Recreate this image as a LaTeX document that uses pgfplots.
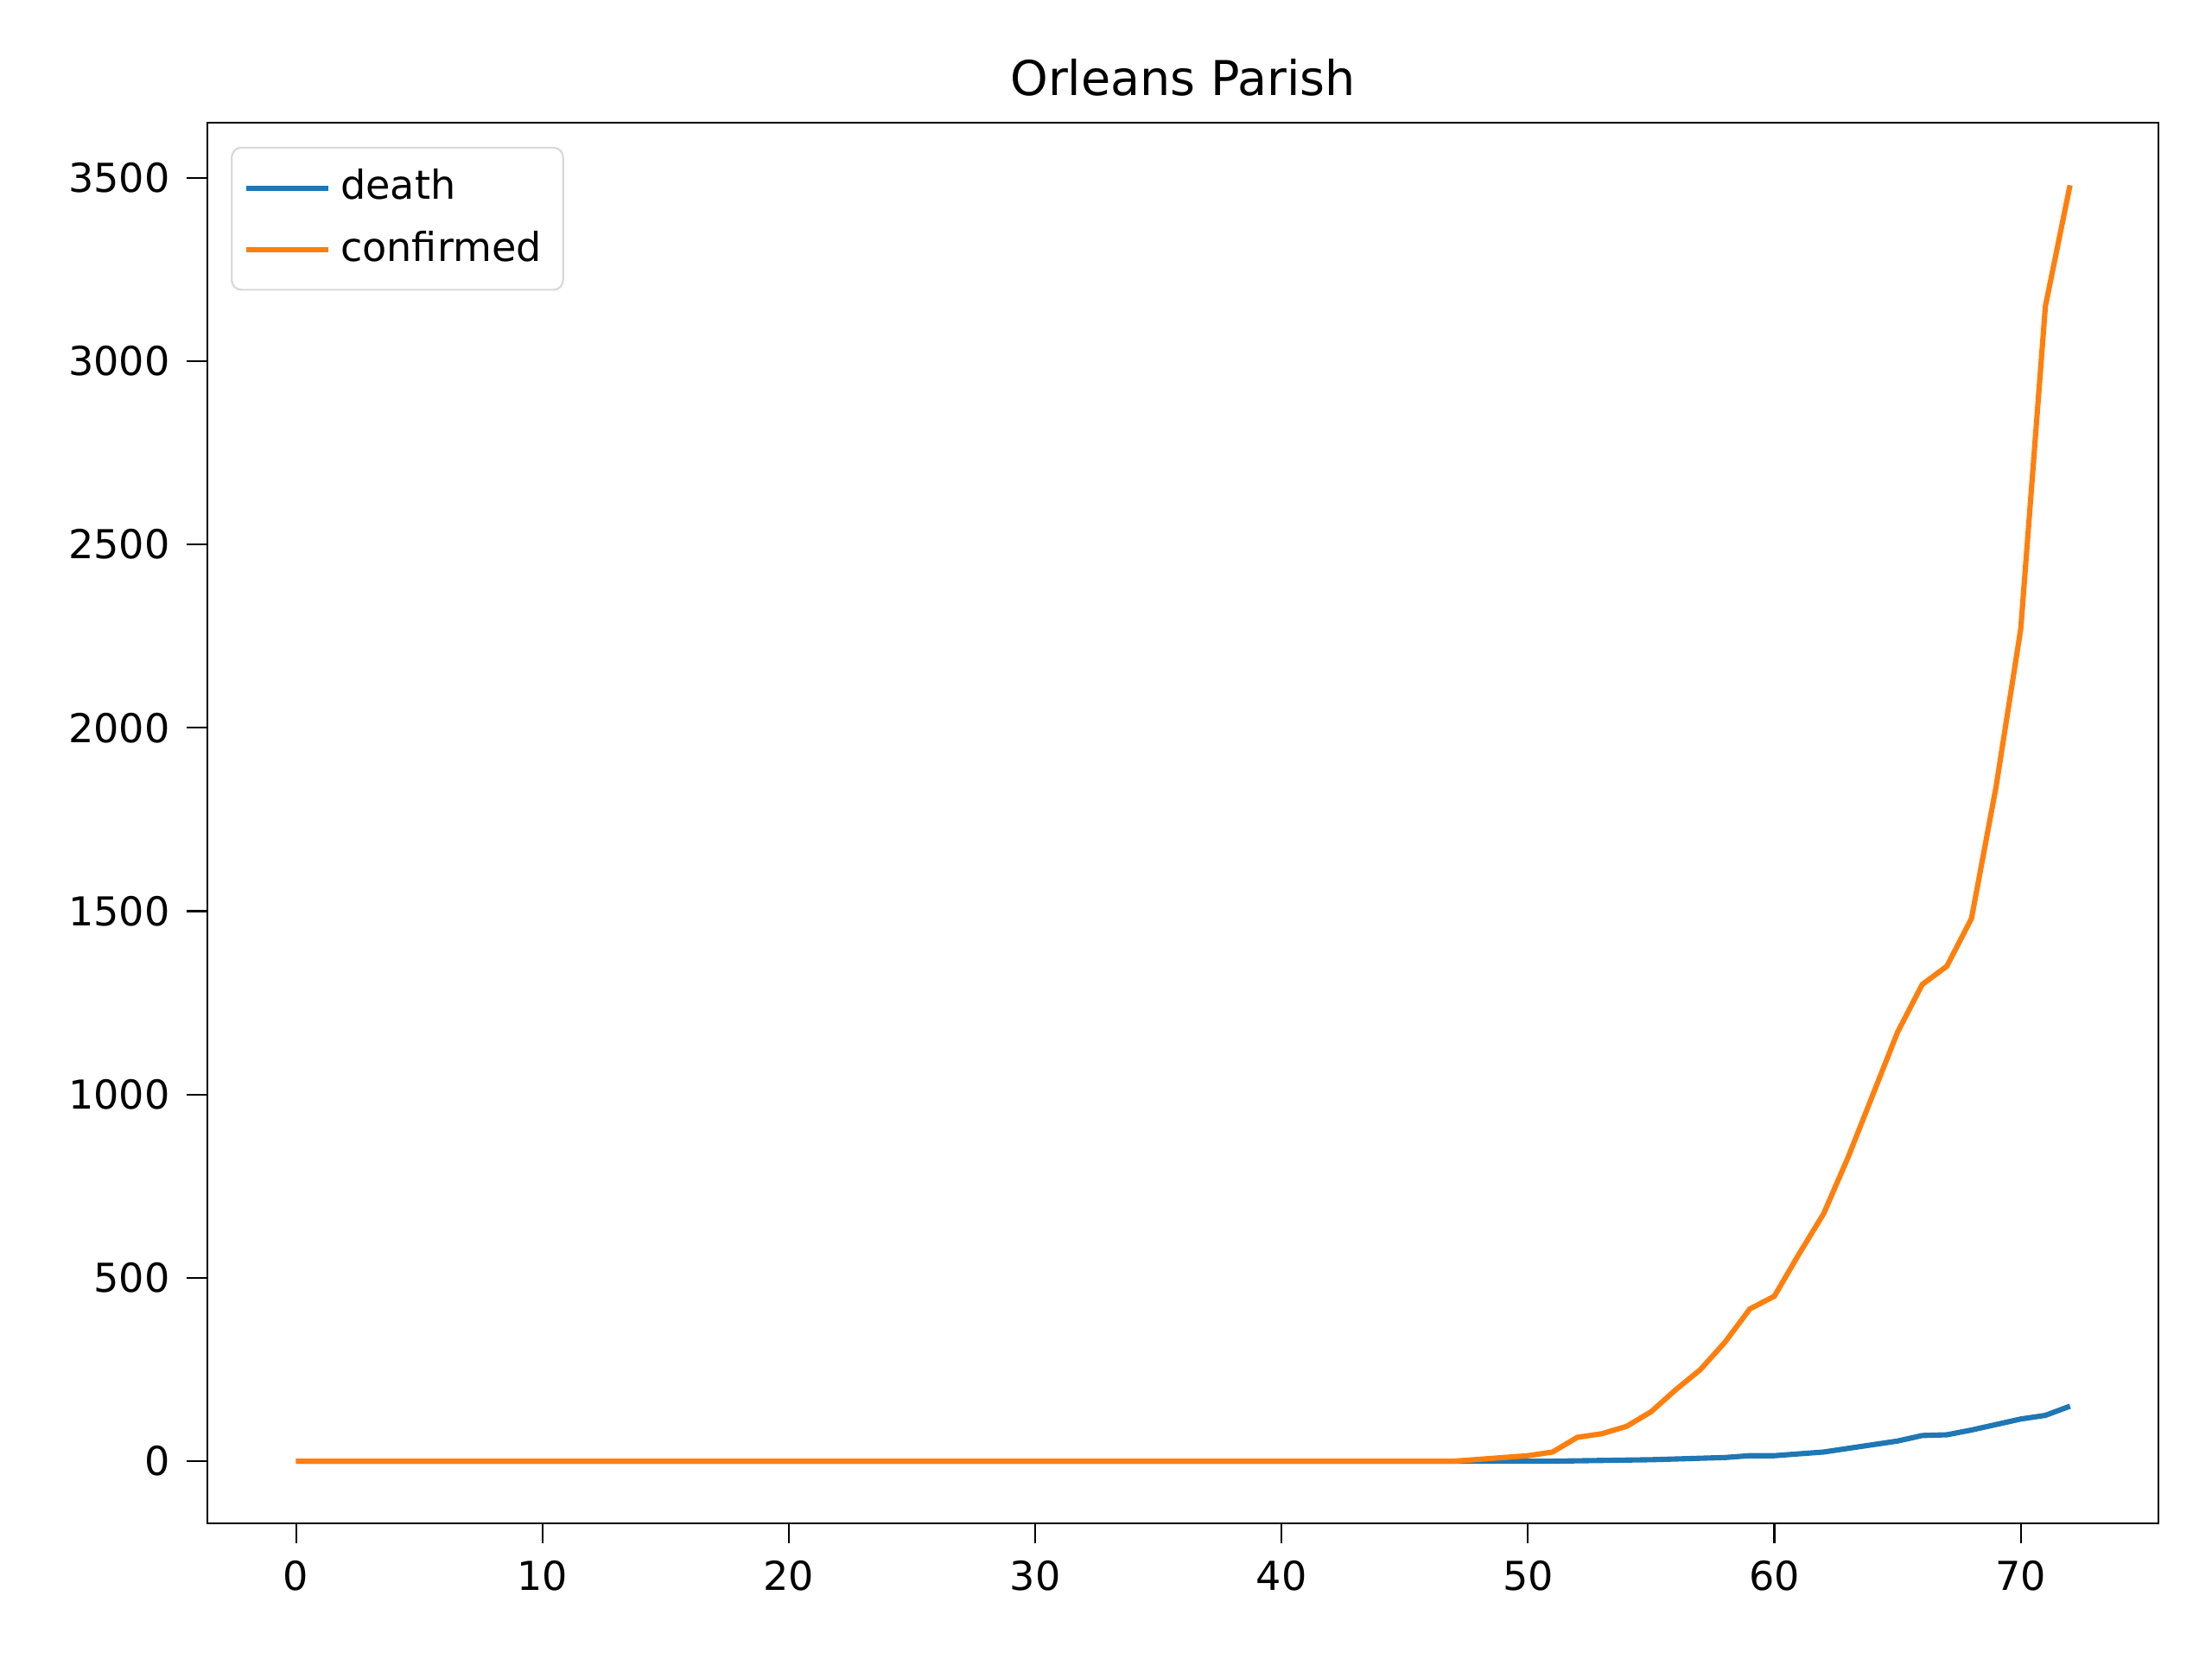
\documentclass[border=0pt]{standalone}
\usepackage{pgfplots}
\pgfplotsset{compat=1.18}
\usepackage{fontspec}
\setmainfont{DejaVu Sans}
\definecolor{c0}{HTML}{1F77B4}
\definecolor{c1}{HTML}{FF7F0E}
\begin{document}
\begin{tikzpicture}
\path[use as bounding box] (-43.2pt,-28.3pt) rectangle (417.6pt,317.3pt);
\begin{axis}[at={(0,0)},anchor=south west,scale only axis,width=406.5pt,height=291.7pt,
xmin=-3.6,xmax=75.6,ymin=-169,ymax=3650,
xtick={0,10,...,70},ytick={0,500,...,3500},
tick align=outside,tick style={black,thin},xtick pos=bottom,ytick pos=left,
/pgf/number format/assume math mode=true,
ticklabel style={font=\fontsize{8.3}{10}\selectfont},
scaled y ticks=false,yticklabel style={/pgf/number format/1000 sep={}},
title={Orleans Parish},title style={font=\fontsize{10}{12}\selectfont,yshift=-4pt},
legend style={at={(0.012,0.983)},anchor=north west,font=\fontsize{8.3}{10}\selectfont,draw=black!15,rounded corners=2pt,inner sep=2.5pt,row sep=1pt},
legend cell align=left,
]
\addplot[c0,line width=1.1pt] coordinates {(0,0)(51,0)(52,1)(53,2)(54,3)(55,4)(56,6)(57,8)(58,10)(59,15)(60,15)(61,20)(62,25)(63,35)(64,45)(65,55)(66,70)(67,72)(68,85)(69,100)(70,115)(71,125)(72,150)};
\addlegendentry{death}
\addplot[c1,line width=1.1pt] coordinates {(0,0)(47,0)(48,5)(49,10)(50,15)(51,25)(52,65)(53,75)(54,95)(55,135)(56,195)(57,250)(58,325)(59,415)(60,450)(61,565)(62,675)(63,830)(64,1000)(65,1170)(66,1300)(67,1350)(68,1480)(69,1840)(70,2270)(71,3150)(72,3480)};
\addlegendentry{confirmed}
\end{axis}
\end{tikzpicture}
\end{document}
